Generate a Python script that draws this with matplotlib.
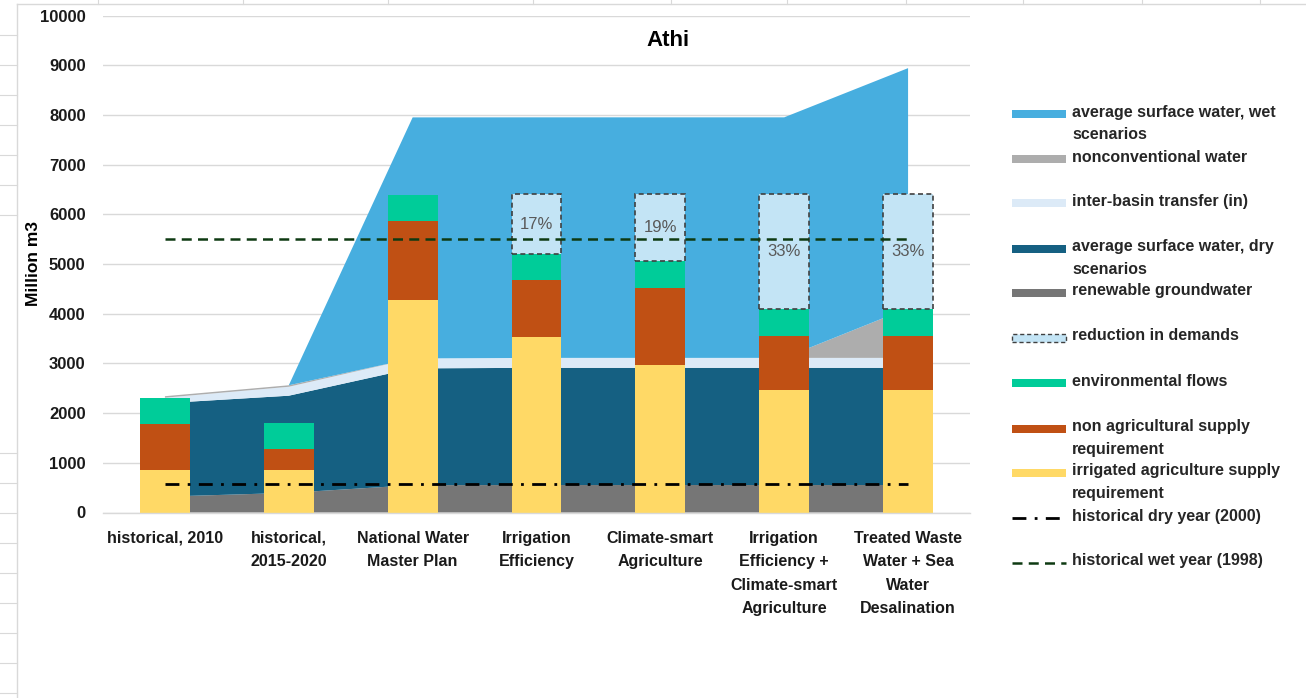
import matplotlib
matplotlib.use("Agg")
import matplotlib.pyplot as plt
from matplotlib.patches import Rectangle
from matplotlib.lines import Line2D
import numpy as np

plt.rcParams['font.family'] = ['Liberation Sans', 'DejaVu Sans']

# ---------------- data ----------------
categories = ["historical, 2010", "historical,\n2015-2020", "National Water\nMaster Plan",
              "Irrigation\nEfficiency", "Climate-smart\nAgriculture",
              "Irrigation\nEfficiency +\nClimate-smart\nAgriculture",
              "Treated Waste\nWater + Sea\nWater\nDesalination"]

# stacked areas (bottom -> top)
groundwater = [320, 395, 550, 553, 553, 553, 553]
surface_dry = [1880, 1955, 2350, 2358, 2358, 2358, 2358]
transfer_in = [110, 180, 200, 200, 200, 200, 200]
nonconventional = [30, 30, 0, 0, 0, 0, 1000]
surface_wet = [0, 0, 4850, 4840, 4840, 4840, 4830]

# stacked bars (bottom -> top)
irrigated = [854, 854, 4271, 3534, 2958, 2456, 2456]
non_agri = [919, 422, 1595, 1139, 1568, 1105, 1105]
env_flows = [535, 517, 516, 523, 529, 536, 536]
reduction = [0, 0, 0, 1206, 1347, 2310, 2310]
reduction_labels = ["", "", "", "17%", "19%", "33%", "33%"]

dry_year = 580
wet_year = 5500

yticks = [0, 1000, 2000, 3000, 4000, 5000, 6000, 7000, 8000, 9000, 10000]

# ---------------- colours ----------------
c_wet = "#47AEDF"
c_noncon = "#ADADAD"
c_transfer = "#DCEAF7"
c_dry = "#156082"
c_gw = "#767676"
c_red = "#C3E4F5"
c_env = "#00CC99"
c_nonag = "#C05014"
c_irr = "#FFD966"
c_wetline = "#0E3A12"

W, H = 1306, 698
fig = plt.figure(figsize=(W / 100, H / 100), dpi=100)

def fx(px):
    return px / W

def fy(py):
    return 1 - py / H

# spreadsheet background lines (outside chart area)
for xv in [98, 243, 388, 533, 671, 787, 906, 1023, 1142, 1260]:
    fig.add_artist(Line2D([fx(xv), fx(xv)], [fy(0), fy(4)], color="#D9D9D9", lw=0.8))
for yv in list(range(35, 216, 30)) + list(range(453, 698, 30)):
    fig.add_artist(Line2D([fx(0), fx(17)], [fy(yv), fy(yv)], color="#D9D9D9", lw=0.8))
fig.add_artist(Line2D([fx(17), fx(17)], [fy(4), fy(698)], color="#D9D9D9", lw=1.0))
fig.add_artist(Line2D([fx(17), fx(1306)], [fy(4), fy(4)], color="#D9D9D9", lw=1.0))

ax = fig.add_axes([fx(103), fy(512.5), fx(970) - fx(103), fy(15.5) - fy(512.5)])
x = np.arange(len(categories))

ax.stackplot(x, groundwater, surface_dry, transfer_in, nonconventional, surface_wet,
             colors=[c_gw, c_dry, c_transfer, c_noncon, c_wet], zorder=1, lw=0)

bw = 0.403
b1 = np.array(irrigated)
b2 = b1 + np.array(non_agri)
b3 = b2 + np.array(env_flows)
ax.bar(x, irrigated, width=bw, color=c_irr, zorder=3)
ax.bar(x, non_agri, width=bw, bottom=b1, color=c_nonag, zorder=3)
ax.bar(x, env_flows, width=bw, bottom=b2, color=c_env, zorder=3)
red = np.array(reduction)
mask = red > 0
ax.bar(x[mask], red[mask], width=bw, bottom=b3[mask], color=c_red, edgecolor="#404040",
       linestyle=(0, (3, 2)), linewidth=1.2, zorder=3)
for i in range(len(x)):
    if reduction_labels[i]:
        ax.text(x[i], b3[i] + red[i] / 2, reduction_labels[i], ha="center", va="center",
                fontsize=12, color="#595959", zorder=5)

ax.plot(x, [dry_year] * len(x), color="black", lw=2.0, linestyle=(0, (5, 3, 1, 3)), zorder=4)
ax.plot(x, [wet_year] * len(x), color=c_wetline, lw=1.8, linestyle=(0, (4, 2.5)), zorder=4)

ax.set_xlim(-0.5, len(x) - 0.5)
ax.set_ylim(0, 10000)
ax.set_yticks(yticks)
ax.set_yticklabels([str(v) for v in yticks], fontsize=12, fontweight="bold", color="#1a1a1a")
ax.set_xticks(x)
ax.set_xticklabels(categories, fontsize=11.5, fontweight="bold", color="#1a1a1a",
                   linespacing=1.72)
ax.tick_params(axis="both", length=0)
ax.tick_params(axis="y", pad=12.5)
ax.tick_params(axis="x", pad=13)
ax.grid(axis="y", color="#D9D9D9", lw=1.0, zorder=0)
ax.set_axisbelow(True)
for s in ["top", "right", "left"]:
    ax.spines[s].set_visible(False)
ax.spines["bottom"].set_color("#D9D9D9")
ax.spines["bottom"].set_linewidth(1.0)
ax.spines["bottom"].set_zorder(6)

fig.text(fx(668), fy(40), "Athi", ha="center", va="center", fontsize=16, fontweight="bold")
fig.text(fx(33), fy(263), "Million m3", ha="center", va="center", rotation=90,
         fontsize=12.5, fontweight="bold")

# ---------------- legend (manual) ----------------
leg = [
    ("patch", c_wet, "average surface water, wet\nscenarios", 114),
    ("patch", c_noncon, "nonconventional water", 159),
    ("patch", c_transfer, "inter-basin transfer (in)", 203),
    ("patch", c_dry, "average surface water, dry\nscenarios", 249),
    ("patch", c_gw, "renewable groundwater", 293),
    ("dashpatch", c_red, "reduction in demands", 338),
    ("patch", c_env, "environmental flows", 383),
    ("patch", c_nonag, "non agricultural supply\nrequirement", 429),
    ("patch", c_irr, "irrigated agriculture supply\nrequirement", 473),
    ("dashdot", "black", "historical dry year (2000)", 518),
    ("dash", c_wetline, "historical wet year (1998)", 563),
]
px0, px1 = 1012, 1066
for kind, col, label, yc in leg:
    if kind == "patch":
        fig.add_artist(Rectangle((fx(px0), fy(yc + 4)), fx(px1) - fx(px0), fy(yc - 4) - fy(yc + 4),
                                 facecolor=col, edgecolor="none"))
    elif kind == "dashpatch":
        fig.add_artist(Rectangle((fx(px0), fy(yc + 4)), fx(px1) - fx(px0), fy(yc - 4) - fy(yc + 4),
                                 facecolor=col, edgecolor="#404040", linestyle=(0, (3, 2)), lw=1.0))
    elif kind == "dashdot":
        fig.add_artist(Line2D([fx(px0), fx(px1)], [fy(yc), fy(yc)], color=col, lw=2.0,
                              linestyle=(0, (5, 3, 1, 3))))
    else:
        fig.add_artist(Line2D([fx(px0), fx(px1)], [fy(yc), fy(yc)], color=col, lw=1.8,
                              linestyle=(0, (4, 2.5))))
    fig.text(fx(1072), fy(yc - 9.5), label, ha="left", va="top", fontsize=11.5,
             fontweight="bold", color="#262626", linespacing=1.6)

fig.savefig("out.png", dpi=100)
